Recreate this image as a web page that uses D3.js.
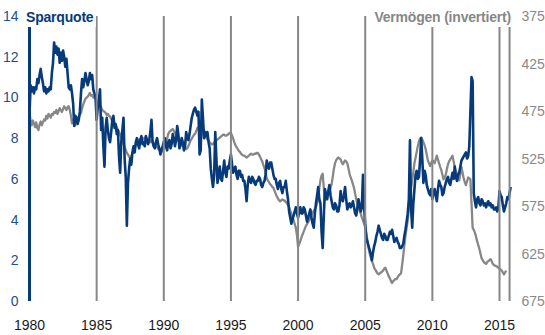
<!DOCTYPE html>
<html>
<head>
<meta charset="utf-8">
<script src="https://cdn.jsdelivr.net/npm/d3@7"></script>
<style>
  html, body { margin: 0; padding: 0; background: #fff; }
  svg { display: block; font-family: "Liberation Sans", Arial, sans-serif; }
</style>
</head>
<body>
<svg id="chart" width="545" height="335"></svg>
<script>
// Savings ratio (left axis, %) and wealth (right axis, inverted), monthly from January 1980
const startYear = 1980;
const stepsPerYear = 12;

const sparquote = [
  9.2, 10.6, 10.3, 10.5, 10.2, 10.5, 10.4, 10.9, 10.7, 11.1, 11.4, 11.0,  // 1980
  10.7, 10.3, 10.5, 10.2, 10.4, 10.3, 10.5, 10.4, 11.2, 11.7, 12.7, 12.2, // 1981
  12.5, 12.1, 12.4, 11.7, 12.2, 11.8, 12.3, 12.0, 11.5, 11.9, 11.2, 10.5, // 1982
  10.4, 10.6, 10.2, 9.7, 8.6, 9.1, 9.0, 8.7, 8.9, 9.3, 10.2, 10.9,        // 1983
  10.5, 10.8, 11.2, 10.9, 10.6, 10.8, 11.2, 10.9, 11.1, 10.4, 10.2, 10.0, // 1984
  8.9, 9.5, 9.9, 10.4, 8.4, 9.0, 7.6, 6.6, 8.5, 9.0, 8.4, 8.0,            // 1985
  7.8, 8.3, 8.9, 9.1, 8.5, 8.7, 8.2, 8.4, 7.1, 6.3, 7.8, 8.4,             // 1986
  9.0, 7.0, 6.1, 3.7, 5.8, 6.5, 7.0, 6.7, 7.3, 7.6, 7.3, 7.8,             // 1987
  8.0, 7.7, 7.5, 7.9, 8.1, 7.7, 7.8, 7.6, 8.1, 7.9, 7.7, 7.9,             // 1988
  8.3, 8.9, 7.8, 7.6, 7.5, 7.8, 8.0, 7.7, 7.5, 7.2, 7.4, 7.6,             // 1989
  7.8, 8.0, 7.6, 7.4, 7.8, 7.9, 7.5, 7.7, 8.2, 8.0, 7.6, 7.9,             // 1990
  8.6, 8.2, 7.5, 7.7, 8.0, 7.8, 7.4, 7.6, 8.3, 8.0, 7.9, 8.2,             // 1991
  8.6, 9.0, 9.2, 9.4, 9.5, 9.3, 9.1, 9.3, 7.2, 7.4, 9.9, 9.0,             // 1992
  8.0, 8.3, 8.1, 8.3, 7.8, 7.5, 6.5, 6.0, 5.6, 6.2, 8.3, 7.0,             // 1993
  5.8, 6.2, 6.6, 6.0, 5.9, 6.4, 6.9, 6.3, 6.1, 6.6, 6.5, 6.9,             // 1994
  7.2, 6.7, 6.3, 6.5, 6.6, 6.2, 6.0, 6.4, 6.4, 6.1, 6.2, 5.9,             // 1995
  5.9, 5.5, 4.9, 5.7, 6.1, 5.9, 5.8, 6.1, 6.0, 5.8, 5.7, 5.9,             // 1996
  5.9, 6.1, 6.0, 5.7, 5.6, 5.8, 5.9, 6.2, 6.9, 6.6, 6.5, 6.8,             // 1997
  6.8, 6.5, 6.2, 6.0, 6.0, 5.7, 5.5, 5.8, 5.9, 5.5, 5.3, 5.6,             // 1998
  5.6, 5.9, 5.4, 5.0, 4.4, 4.1, 3.8, 4.0, 4.2, 4.4, 4.6, 4.3,             // 1999
  4.1, 4.4, 4.6, 4.3, 4.3, 4.6, 4.5, 4.2, 3.9, 4.1, 4.3, 4.5,             // 2000
  4.1, 3.8, 3.6, 4.3, 4.8, 5.2, 5.6, 5.0, 4.8, 3.4, 2.6, 4.2,             // 2001
  5.5, 5.2, 5.0, 5.4, 5.7, 5.2, 4.9, 4.6, 4.5, 4.8, 4.7, 4.4,             // 2002
  4.4, 4.7, 5.4, 5.0, 4.9, 5.2, 5.6, 5.0, 4.5, 4.7, 4.8, 4.6,             // 2003
  4.7, 4.9, 4.6, 4.3, 4.2, 4.6, 5.0, 4.7, 4.4, 4.6, 6.2, 4.6,             // 2004
  3.8, 3.1, 2.9, 2.7, 2.5, 2.3, 2.0, 2.4, 2.7, 2.9, 3.2, 3.4,             // 2005
  3.7, 3.5, 3.3, 3.1, 3.0, 3.3, 3.2, 3.0, 3.0, 3.2, 3.4, 3.3,             // 2006
  3.5, 3.2, 2.9, 3.0, 3.1, 2.9, 2.8, 2.6, 2.6, 2.7, 2.8, 3.2,             // 2007
  3.5, 3.9, 4.3, 5.0, 7.9, 4.5, 3.6, 4.8, 5.5, 6.2, 6.4, 6.0,             // 2008
  6.1, 6.9, 8.0, 7.0, 5.8, 6.4, 6.2, 5.7, 5.5, 5.3, 5.2, 5.5,             // 2009
  5.0, 5.3, 5.5, 5.2, 4.9, 5.5, 5.9, 5.7, 5.6, 5.2, 5.3, 5.6,             // 2010
  5.8, 6.0, 6.1, 5.8, 5.7, 6.0, 6.3, 6.0, 6.6, 6.1, 5.9, 6.2,             // 2011
  6.3, 6.6, 6.9, 7.0, 7.1, 7.2, 7.3, 7.0, 7.1, 7.6, 9.3, 11.0,            // 2012
  10.8, 5.3, 4.9, 4.6, 5.0, 5.1, 4.8, 4.7, 5.0, 4.9, 4.7, 4.8,            // 2013
  4.6, 4.8, 4.9, 4.7, 4.8, 4.6, 4.7, 4.5, 4.5, 4.6, 4.4, 4.6,             // 2014
  5.4, 5.2, 5.1, 4.7, 4.4, 4.6, 4.8, 5.1, 5.0, 5.3, 5.6                   // 2015
];

const vermoegen = [
  476, 486, 490, 485, 488, 492, 487, 493, 495, 489, 486, 490,  // 1980
  487, 484, 485, 480, 483, 478, 480, 482, 478, 479, 476, 477,  // 1981
  474, 478, 475, 472, 474, 476, 473, 470, 472, 474, 471, 470,  // 1982
  474, 480, 488, 484, 486, 490, 486, 483, 481, 479, 477, 472,  // 1983
  468, 465, 462, 461, 460, 458, 456, 459, 458, 461, 460, 462,  // 1984
  463, 466, 468, 470, 471, 474, 475, 476, 477, 479, 478, 480,  // 1985
  481, 483, 486, 487, 489, 490, 492, 495, 497, 500, 503, 506,  // 1986
  510, 513, 516, 519, 521, 523, 524, 522, 519, 516, 514, 511,  // 1987
  509, 507, 505, 506, 506, 504, 504, 503, 503, 505, 506, 507,  // 1988
  508, 506, 507, 509, 511, 512, 513, 515, 516, 517, 518, 516,  // 1989
  515, 512, 509, 504, 499, 497, 496, 495, 494, 496, 498, 500,  // 1990
  503, 506, 509, 510, 511, 512, 513, 514, 515, 514, 512, 509,  // 1991
  506, 504, 502, 500, 499, 496, 493, 492, 491, 490, 489, 492,  // 1992
  496, 500, 503, 505, 506, 508, 509, 510, 510, 508, 507, 506,  // 1993
  505, 504, 503, 502, 501, 500, 500, 501, 501, 500, 499, 498,  // 1994
  498, 501, 504, 508, 511, 513, 515, 517, 518, 520, 521, 522,  // 1995
  522, 523, 524, 523, 522, 521, 520, 521, 521, 520, 520, 519,  // 1996
  519, 521, 523, 526, 528, 532, 535, 540, 546, 548, 550, 552,  // 1997
  553, 555, 556, 559, 562, 565, 567, 569, 570, 569, 568, 569,  // 1998
  569, 571, 572, 574, 576, 580, 583, 587, 590, 594, 598, 606,  // 1999
  618, 615, 612, 608, 605, 602, 599, 596, 594, 592, 590, 587,  // 2000
  584, 582, 580, 578, 576, 572, 568, 556, 548, 543, 541, 556,  // 2001
  569, 568, 566, 563, 560, 556, 552, 544, 536, 530, 527, 525,  // 2002
  524, 525, 526, 529, 531, 529, 527, 528, 530, 535, 541, 545,  // 2003
  548, 552, 556, 562, 568, 573, 577, 580, 583, 587, 590, 594,  // 2004
  597, 604, 612, 619, 625, 629, 633, 636, 640, 642, 644, 646,  // 2005
  647, 646, 645, 644, 643, 641, 640, 643, 646, 649, 651, 654,  // 2006
  656, 654, 653, 652, 652, 650, 648, 647, 646, 637, 627, 616,  // 2007
  606, 598, 590, 578, 565, 556, 548, 539, 530, 524, 518, 512,  // 2008
  507, 504, 503, 505, 508, 511, 515, 521, 527, 530, 533, 530,  // 2009
  527, 528, 530, 526, 522, 526, 530, 534, 537, 542, 547, 545,  // 2010
  542, 536, 531, 528, 526, 524, 522, 528, 534, 538, 541, 545,  // 2011
  548, 541, 534, 540, 546, 550, 553, 549, 545, 546, 547, 572,  // 2012
  598, 600, 603, 607, 612, 616, 620, 625, 630, 632, 634, 635,  // 2013
  636, 634, 633, 632, 631, 633, 636, 637, 638, 638, 639, 640,  // 2014
  641, 642, 643, 645, 647, 645, 643                             // 2015
];

const leftTicks = [0, 2, 4, 6, 8, 10, 12, 14];
const rightTicks = [375, 425, 475, 525, 575, 625, 675];
const yearTicks = [1980, 1985, 1990, 1995, 2000, 2005, 2010, 2015];
const gridYears = [1985, 1990, 1995, 2000, 2005, 2010, 2015, 2015.75];

const leftTitle = "Sparquote";
const rightTitle = "Vermögen (invertiert)";

const colors = {
  blue: "#063a7a",
  blueText: "#1a4f90",
  gray: "#878787",
  grayText: "#8a8a8a",
  axisText: "#1a1a1a"
};

const svg = d3.select("#chart");
const plotTop = 16, plotBottom = 301;

const x = d3.scaleLinear().domain([1980, 2015]).range([29.5, 499.5]);
const yL = d3.scaleLinear().domain([0, 14]).range([plotBottom, plotTop]);
const yR = d3.scaleLinear().domain([375, 675]).range([plotTop, plotBottom]);

const t = i => startYear + i / stepsPerYear;

// series
svg.append("path")
  .datum(vermoegen)
  .attr("fill", "none")
  .attr("stroke", colors.gray)
  .attr("stroke-width", 2.3)
  .attr("stroke-linejoin", "round")
  .attr("d", d3.line().x((d, i) => x(t(i))).y(d => yR(d)));

svg.append("path")
  .datum(sparquote)
  .attr("fill", "none")
  .attr("stroke", colors.blue)
  .attr("stroke-width", 2.6)
  .attr("stroke-linejoin", "round")
  .attr("d", d3.line().x((d, i) => x(t(i))).y(d => yL(d)));

// vertical year lines
svg.append("g").selectAll("line")
  .data(gridYears)
  .join("line")
  .attr("x1", d => x(d)).attr("x2", d => x(d))
  .attr("y1", yL(0)).attr("y2", yL(14))
  .attr("stroke", colors.gray)
  .attr("stroke-width", 2);

// left axis line
svg.append("line")
  .attr("x1", x(1980)).attr("x2", x(1980))
  .attr("y1", yL(0)).attr("y2", yL(14))
  .attr("stroke", colors.blue)
  .attr("stroke-width", 3);

// left tick labels
svg.append("g").selectAll("text")
  .data(leftTicks)
  .join("text")
  .attr("x", 18.5)
  .attr("y", d => yL(d))
  .attr("dy", "0.36em")
  .attr("text-anchor", "end")
  .attr("font-size", 14)
  .attr("fill", colors.blueText)
  .text(d => d);

// right tick labels
svg.append("g").selectAll("text")
  .data(rightTicks)
  .join("text")
  .attr("x", 521.5)
  .attr("y", d => yR(d))
  .attr("dy", "0.36em")
  .attr("text-anchor", "start")
  .attr("font-size", 14)
  .attr("fill", colors.grayText)
  .text(d => d);

// year labels
svg.append("g").selectAll("text")
  .data(yearTicks)
  .join("text")
  .attr("x", d => x(d))
  .attr("y", 330)
  .attr("text-anchor", "middle")
  .attr("font-size", 14)
  .attr("fill", colors.axisText)
  .text(d => d);

// series titles on a white backing
function title(txt, xPos, anchor, color) {
  const g = svg.append("g");
  const bg = g.append("rect").attr("fill", "#fff");
  const el = g.append("text")
    .attr("x", xPos).attr("y", 21.5)
    .attr("text-anchor", anchor)
    .attr("font-size", 14)
    .attr("font-weight", "bold")
    .attr("letter-spacing", "-0.2px")
    .attr("fill", color)
    .text(txt);
  const b = el.node().getBBox();
  bg.attr("x", b.x - 2).attr("y", b.y - 1)
    .attr("width", b.width + 4).attr("height", 28 - b.y);
}
title(leftTitle, 26, "start", colors.blue);
title(rightTitle, 511, "end", colors.gray);
</script>
</body>
</html>
